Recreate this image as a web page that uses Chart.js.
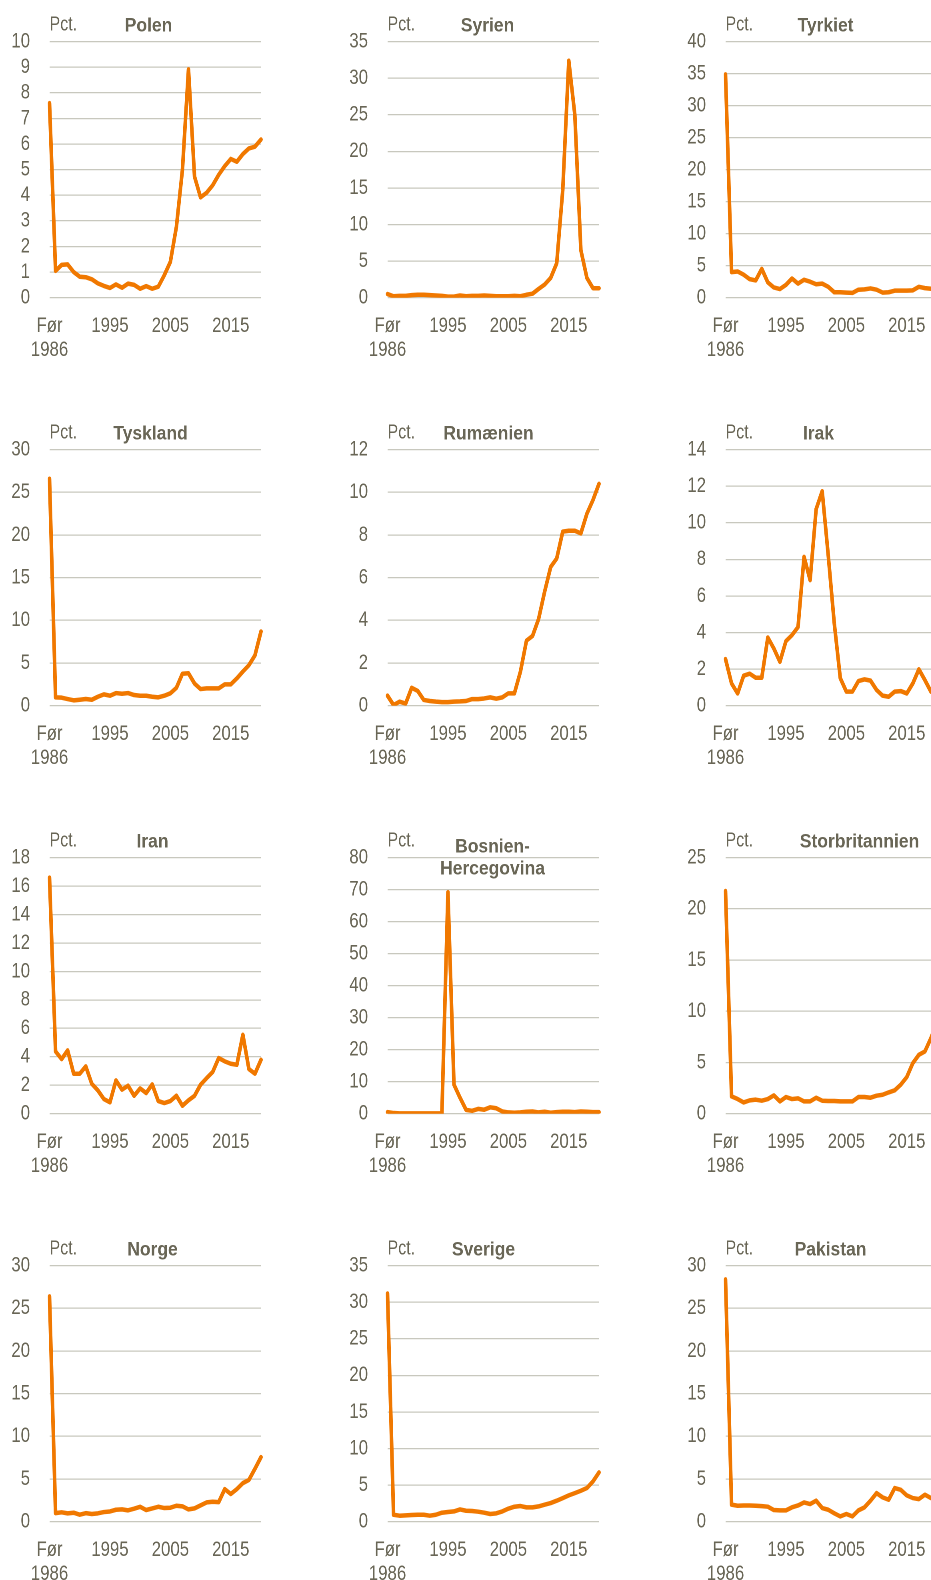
<!DOCTYPE html>
<html lang="da">
<head>
<meta charset="utf-8">
<title>Indvandrere efter oprindelsesland</title>
<script src="https://cdn.jsdelivr.net/npm/chart.js@4.4.1/dist/chart.umd.min.js"></script>
<style>
  html, body { margin: 0; padding: 0; background: #fff; }
  body { width: 931px; height: 1580px; overflow: hidden; position: relative; }
  /* the original uses a narrow typeface; squeeze each panel sideways instead */
  .panel { position: absolute; width: 423px; height: 408px; transform: scaleX(0.8); transform-origin: 0 0; }
</style>
</head>
<body>
<script>
// categories (x axis)
var years = ['Før 1986', '1986', '1987', '1988', '1989', '1990', '1991', '1992', '1993', '1994',
  '1995', '1996', '1997', '1998', '1999', '2000', '2001', '2002', '2003', '2004',
  '2005', '2006', '2007', '2008', '2009', '2010', '2011', '2012', '2013', '2014',
  '2015', '2016', '2017', '2018', '2019', '2020'];

// series, pct.
var polen = [7.6, 1.05, 1.28, 1.3, 1.0, 0.82, 0.8, 0.72, 0.56, 0.46, 0.38, 0.52, 0.39, 0.55, 0.5, 0.35, 0.45, 0.35, 0.43, 0.88, 1.4, 2.77, 5.0, 8.92, 4.73, 3.92, 4.1, 4.39, 4.8, 5.14, 5.42, 5.31, 5.61, 5.83, 5.9, 6.18];
var syrien = [0.5, 0.2, 0.25, 0.25, 0.35, 0.4, 0.4, 0.35, 0.3, 0.25, 0.15, 0.15, 0.3, 0.2, 0.25, 0.25, 0.3, 0.25, 0.2, 0.2, 0.2, 0.25, 0.2, 0.4, 0.55, 1.2, 1.8, 2.7, 4.7, 14.7, 32.4, 25.0, 6.5, 2.7, 1.3, 1.3];
var tyrkiet = [34.9, 4.0, 4.1, 3.6, 2.9, 2.7, 4.5, 2.4, 1.6, 1.35, 2.0, 3.0, 2.2, 2.8, 2.5, 2.1, 2.2, 1.7, 0.85, 0.85, 0.8, 0.75, 1.25, 1.3, 1.45, 1.25, 0.8, 0.85, 1.1, 1.1, 1.1, 1.15, 1.7, 1.5, 1.4, 1.3];
var tyskland = [26.6, 0.98, 0.94, 0.78, 0.63, 0.7, 0.78, 0.7, 1.05, 1.33, 1.17, 1.48, 1.4, 1.48, 1.25, 1.17, 1.17, 1.05, 0.98, 1.17, 1.45, 2.1, 3.75, 3.8, 2.6, 1.95, 2.03, 2.03, 2.03, 2.5, 2.5, 3.2, 4.0, 4.75, 5.9, 8.7];
var rumaenien = [0.47, 0.03, 0.19, 0.1, 0.84, 0.69, 0.27, 0.22, 0.19, 0.17, 0.17, 0.19, 0.2, 0.22, 0.31, 0.31, 0.34, 0.39, 0.33, 0.39, 0.58, 0.58, 1.6, 3.05, 3.27, 4.06, 5.34, 6.5, 6.9, 8.16, 8.2, 8.2, 8.08, 9.0, 9.64, 10.4];
var irak = [2.55, 1.22, 0.67, 1.64, 1.75, 1.53, 1.53, 3.73, 3.13, 2.4, 3.53, 3.86, 4.3, 8.14, 6.87, 10.75, 11.73, 8.23, 4.5, 1.5, 0.77, 0.77, 1.35, 1.44, 1.37, 0.86, 0.55, 0.49, 0.77, 0.8, 0.67, 1.22, 1.99, 1.4, 0.77, 0.6];
var iran = [16.6, 4.38, 3.84, 4.45, 2.81, 2.81, 3.33, 2.1, 1.64, 1.03, 0.8, 2.34, 1.69, 1.97, 1.26, 1.78, 1.45, 2.06, 0.89, 0.75, 0.89, 1.26, 0.56, 0.94, 1.26, 2.04, 2.5, 2.93, 3.91, 3.68, 3.51, 3.44, 5.55, 3.14, 2.81, 3.79];
var bosnien = [0.5, 0.2, 0.1, 0.1, 0.1, 0.1, 0.1, 0.1, 0.1, 0.1, 69.2, 9.1, 5.0, 1.2, 0.9, 1.5, 1.25, 2.0, 1.7, 0.7, 0.4, 0.3, 0.4, 0.6, 0.7, 0.4, 0.6, 0.3, 0.5, 0.6, 0.6, 0.5, 0.7, 0.6, 0.5, 0.5];
var storbritannien = [21.75, 1.69, 1.43, 1.1, 1.3, 1.37, 1.27, 1.43, 1.79, 1.2, 1.63, 1.43, 1.5, 1.2, 1.2, 1.56, 1.27, 1.24, 1.24, 1.2, 1.2, 1.2, 1.63, 1.63, 1.56, 1.76, 1.85, 2.08, 2.28, 2.83, 3.58, 4.94, 5.75, 6.08, 7.38, 8.9];
var norge = [26.4, 1.0, 1.1, 0.98, 1.05, 0.82, 1.0, 0.9, 0.98, 1.13, 1.2, 1.4, 1.44, 1.33, 1.52, 1.75, 1.37, 1.56, 1.75, 1.6, 1.64, 1.87, 1.8, 1.44, 1.56, 1.91, 2.26, 2.34, 2.3, 3.82, 3.24, 3.82, 4.52, 4.9, 6.2, 7.57];
var sverige = [31.2, 0.95, 0.82, 0.86, 0.91, 0.95, 0.95, 0.82, 0.95, 1.23, 1.32, 1.41, 1.68, 1.5, 1.46, 1.37, 1.23, 1.05, 1.14, 1.41, 1.78, 2.05, 2.14, 1.96, 1.96, 2.09, 2.32, 2.55, 2.87, 3.23, 3.6, 3.91, 4.23, 4.6, 5.5, 6.74];
var pakistan = [28.4, 2.0, 1.87, 1.9, 1.9, 1.87, 1.83, 1.76, 1.37, 1.33, 1.33, 1.68, 1.9, 2.26, 2.07, 2.46, 1.6, 1.4, 0.98, 0.62, 0.9, 0.62, 1.33, 1.68, 2.46, 3.35, 2.85, 2.57, 3.94, 3.74, 3.08, 2.77, 2.65, 3.16, 2.77, 2.7];

var countries = ['Polen', 'Syrien', 'Tyrkiet', 'Tyskland', 'Rumænien', 'Irak',
  'Iran', 'Bosnien-\nHercegovina', 'Storbritannien', 'Norge', 'Sverige', 'Pakistan'];
var series = [polen, syrien, tyrkiet, tyskland, rumaenien, irak, iran, bosnien, storbritannien, norge, sverige, pakistan];
var yMax = [10, 35, 40, 30, 12, 14, 18, 80, 25, 30, 35, 30];
var yStep = [1, 5, 5, 5, 2, 2, 2, 10, 5, 5, 5, 5];

// title centre, screen px from the left edge of the plot
var titleX = [99, 100, 100, 101, 101, 93, 103, 105, 134, 103, 96, 105];

var squeeze = 0.8;       // same as the css scaleX above
var fontFamily = "'Liberation Sans', Arial, sans-serif";
var textColor = '#696656';
var gridColor = '#c8c8be';
var lineColor = '#f07800';

Chart.defaults.font.family = fontFamily;
Chart.defaults.font.size = 21;
Chart.defaults.color = textColor;

// "Pct." and the country name above each plot
var panelText = {
  id: 'panelText',
  afterDraw: function (chart, args, opts) {
    var ctx = chart.ctx;
    var left = chart.chartArea.left;
    ctx.save();
    ctx.fillStyle = textColor;
    ctx.textBaseline = 'alphabetic';
    ctx.font = '20px ' + fontFamily;
    ctx.textAlign = 'left';
    ctx.fillText('Pct.', left, 30.7);
    ctx.font = 'bold 19px ' + fontFamily;
    ctx.textAlign = 'center';
    var lines = opts.title.split('\n');
    var y = lines.length > 1 ? 36.3 : 31.7;
    lines.forEach(function (l, k) {
      ctx.save();
      ctx.translate(left + opts.x / squeeze, y + k * 22);
      ctx.scale(0.92 / squeeze, 1);
      ctx.fillText(l, 0, 0);
      ctx.restore();
    });
    ctx.restore();
  }
};

series.forEach(function (data, n) {
  var col = n % 3, row = Math.floor(n / 3);
  var div = document.createElement('div');
  div.className = 'panel';
  div.style.left = (col * 338) + 'px';
  div.style.top = (row * 408) + 'px';
  var canvas = document.createElement('canvas');
  canvas.width = 423;
  canvas.height = 408;
  div.appendChild(canvas);
  document.body.appendChild(div);

  new Chart(canvas.getContext('2d'), {
    type: 'line',
    data: {
      labels: years,
      datasets: [{
        data: data,
        borderColor: lineColor,
        borderWidth: 4.5,
        borderJoinStyle: 'round',
        borderCapStyle: 'round',
        pointRadius: 0,
        tension: 0,
        fill: false
      }]
    },
    options: {
      responsive: false,
      animation: false,
      devicePixelRatio: 2,
      layout: { padding: { top: 41.7, right: 96.75, left: 0, bottom: 0 } },
      plugins: {
        legend: { display: false },
        tooltip: { enabled: false },
        panelText: { title: countries[n], x: titleX[n] }
      },
      scales: {
        x: {
          type: 'category',
          offset: false,
          grid: { display: false },
          border: { display: false },
          ticks: {
            autoSkip: false,
            maxRotation: 0,
            padding: 8.6,
            font: { size: 21, lineHeight: 1.143 },
            callback: function (v, i) {
              if (i === 0) return ['Før', '1986'];
              return i % 10 === 0 ? years[i] : '';
            }
          },
          afterFit: function (s) { s.height = 110.3; }
        },
        y: {
          min: 0,
          max: yMax[n],
          grid: { color: gridColor, lineWidth: 1.3, drawTicks: false },
          border: { display: false },
          ticks: { stepSize: yStep[n], autoSkip: false, padding: 24.4, font: { size: 21 } },
          afterFit: function (s) { s.width = 61.9; }
        }
      }
    },
    plugins: [panelText]
  });
});
</script>
</body>
</html>
